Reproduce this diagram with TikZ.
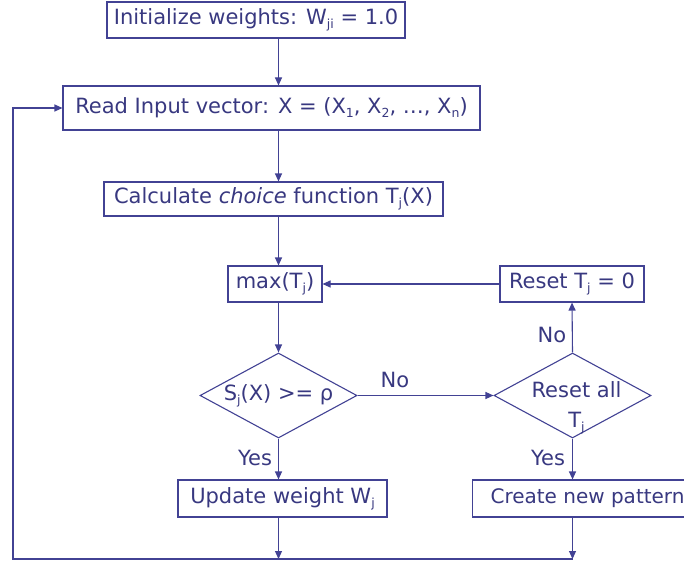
\documentclass[tikz,border=0pt]{standalone}
\usepackage{fontspec}
\setmainfont{DejaVu Sans}
\usetikzlibrary{arrows.meta,shapes.geometric}
\definecolor{ink}{RGB}{56,56,128}
\definecolor{edge}{RGB}{66,66,148}
% small, slightly lowered index letters
\newcommand\sbs[1]{\raisebox{-0.35ex}{\fontsize{12.5}{12.5}\selectfont #1}}
\begin{document}
\begin{tikzpicture}[x=1pt,y=-1pt,
  every node/.style={font=\fontsize{21}{24}\selectfont, text=ink},
  procbox/.style={draw=edge, line width=1.1pt, rectangle, inner sep=0pt},
  decision/.style={draw=edge, line width=1.1pt, diamond, inner sep=0pt,
    minimum width=157pt, minimum height=85pt},
  arr/.style={draw=edge, line width=1.1pt, -{Triangle[length=8pt,width=7pt]}},
  lbl/.style={inner sep=0pt}]
\clip (0,0) rectangle (684,564);
\useasboundingbox (0,0) rectangle (684,564);

% process boxes
\node[procbox, minimum width=298pt, minimum height=36pt] (init) at (256,20)
  {Initialize weights: W\sbs{ji} = 1.0};
\node[procbox, minimum width=417pt, minimum height=44pt] (read) at (271.5,108)
  {Read Input vector: X = (X\sbs{1}, X\sbs{2}, …, X\sbs{n})};
\node[procbox, minimum width=339pt, minimum height=34pt] (calc) at (273.5,199)
  {Calculate \textit{choice} function T\sbs{j}(X)};
\node[procbox, minimum width=94pt, minimum height=36pt] (max) at (275,284)
  {max(T\sbs{j})};
\node[procbox, minimum width=144pt, minimum height=36pt] (reset) at (572,284)
  {Reset T\sbs{j} = 0};
\node[procbox, minimum width=209pt, minimum height=37pt] (update) at (282.5,498.5)
  {Update weight W\sbs{j}};
\node[procbox, minimum width=222pt, minimum height=37pt, anchor=west,
  font=\fontsize{20}{24}\selectfont] (create) at (472,498.5)
  {\hspace*{8pt}Create new pattern\hfill};

% decisions
\node[decision, label={[lbl]center:S\sbs{j}(X) >= ρ}] (d1) at (278.5,395.5) {};
\node[decision, label={[lbl, align=center, xshift=4pt, yshift=-12pt,
  font=\fontsize{21}{30}\selectfont]center:Reset all\\T\sbs{j}}] (d2) at (572.5,395.5) {};

% main spine
\draw[arr] (init.south -| d1) -- (read.north -| d1);
\draw[arr] (read.south -| d1) -- (calc.north -| d1);
\draw[arr] (calc.south -| d1) -- (max.north -| d1);
\draw[arr] (max.south -| d1) -- (d1.north);

% vigilance test branches
\draw[arr] (d1.east) -- (d2.west);
\node[lbl] (no1) at (395,380) {No};
\draw[arr] (d2.north) -- (reset.south);
\node[lbl] (no2) at (552,335) {No};
\draw[arr] (reset.west) -- (max.east);
\draw[arr] (d1.south) -- (update.north -| d1);
\node[lbl] (yes1) at (255,458) {Yes};
\draw[arr] (d2.south) -- (create.north -| d2);
\node[lbl] (yes2) at (548,458) {Yes};

% return loop
\coordinate (b1) at (278.5,559);
\coordinate (b2) at (572.5,559);
\coordinate (lc) at (13,559);
\draw[arr] (update.south -| d1) -- (b1);
\draw[arr] (create.south -| d2) -- (b2);
\draw[arr] (b2) -- (lc) |- (read.west);
\end{tikzpicture}
\end{document}
